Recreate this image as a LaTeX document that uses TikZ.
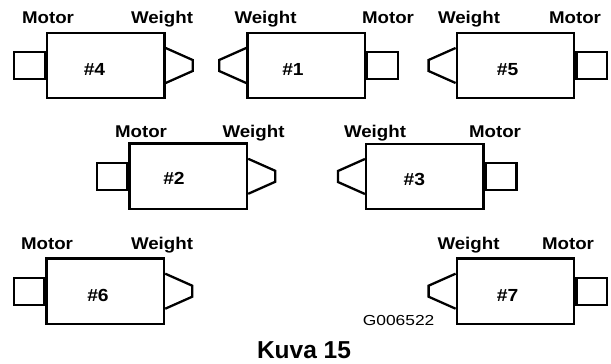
\documentclass[tikz,border=0pt]{standalone}
\usepackage{graphicx}
\usepackage{fontspec}
\setmainfont{Liberation Sans}
\tikzset{
  ln/.style={line width=2.3pt, line join=miter},
  body/.style={ln, draw, rectangle, inner sep=0pt, minimum width=117.5pt, minimum height=65.5pt},
  motorbox/.style={ln, draw, rectangle, inner sep=0pt, minimum width=30.5pt, minimum height=27pt},
  lbl/.style={anchor=base, inner sep=0pt, font=\bfseries\fontsize{17}{20}\selectfont},
  numlbl/.style={anchor=base, inner sep=0pt, font=\bfseries\fontsize{17.5}{20}\selectfont},
}
\newcommand\stretchtxt[1]{\scalebox{1.1}[1]{#1}}
% motor on the left, weight on the right
% #1 name, #2 cx, #3 cy, #4 num x, #5 num baseline, #6 number, #7 motor label x, #8 weight label x, #9 label baseline
\newcommand\unitML[9]{%
  \node[body] (#1) at (#2,#3) {};
  \node[motorbox, anchor=east] (#1m) at (#1.west) {};
  \draw[ln] ([yshift=17.5pt]#1.east) -- ([xshift=27pt,yshift=5.5pt]#1.east)
     -- ([xshift=27pt,yshift=-5.5pt]#1.east) -- ([yshift=-17.5pt]#1.east);
  \node[numlbl] (#1n) at (#4,#5) {\stretchtxt{\##6}};
  \node[lbl] (#1ml) at (#7,#9) {\stretchtxt{Motor}};
  \node[lbl] (#1wl) at (#8,#9) {\stretchtxt{Weight}};
}
% weight on the left, motor on the right
\newcommand\unitMR[9]{%
  \node[body] (#1) at (#2,#3) {};
  \node[motorbox, anchor=west] (#1m) at (#1.east) {};
  \draw[ln] ([yshift=17.5pt]#1.west) -- ([xshift=-27pt,yshift=5.5pt]#1.west)
     -- ([xshift=-27pt,yshift=-5.5pt]#1.west) -- ([yshift=-17.5pt]#1.west);
  \node[numlbl] (#1n) at (#4,#5) {\stretchtxt{\##6}};
  \node[lbl] (#1ml) at (#7,#9) {\stretchtxt{Motor}};
  \node[lbl] (#1wl) at (#8,#9) {\stretchtxt{Weight}};
}
\begin{document}
\begin{tikzpicture}[x=1pt,y=-1pt]
\useasboundingbox[fill=white] (0,0) rectangle (611,364);
\unitML{u4}{105.75}{65.5}{94.5}{75}{4}{48}{162}{23.5}
\unitMR{u1}{306.1}{65.5}{293}{75}{1}{388}{265.5}{23.5}
\unitMR{u5}{515.5}{65.5}{507.5}{75}{5}{575}{469}{23.5}
\unitML{u2}{188.3}{176.3}{174}{184.5}{2}{141}{253.5}{137}
\unitMR{u3}{424.85}{176.5}{414.3}{185}{3}{495}{375}{137}
\unitML{u6}{105.35}{291.2}{98}{301}{6}{47}{162}{249}
\unitMR{u7}{515.5}{291.2}{507.5}{301}{7}{568}{468.5}{249}
\node[anchor=base, inner sep=0pt, font=\fontsize{14.5}{16}\selectfont] (code) at (398.6,325.7) {\scalebox{1.2}[1]{G006522}};
\node[anchor=base, inner sep=0pt, font=\bfseries\fontsize{24.5}{28}\selectfont] (cap) at (304,358.5) {Kuva 15};
\end{tikzpicture}
\end{document}
